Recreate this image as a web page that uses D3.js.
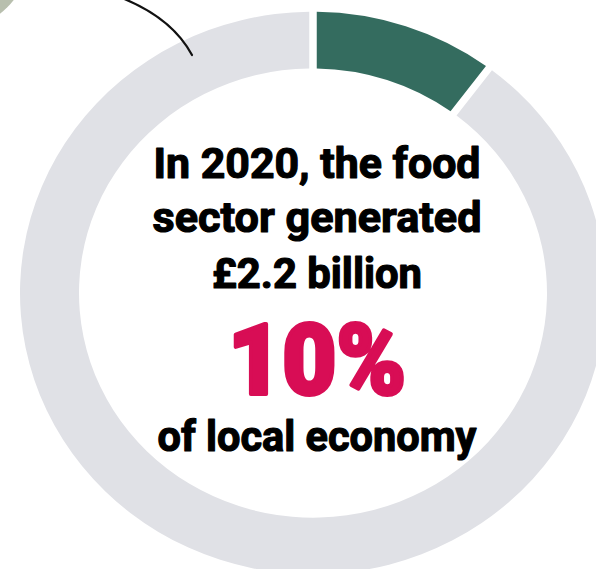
<!DOCTYPE html>
<html>
<head>
    <meta charset="utf-8">
    <title>Food sector share of local economy</title>
    <style>
        html, body { margin: 0; padding: 0; background: #fff; }
        svg { display: block; }
    </style>
</head>
<body>
<div id="chart"></div>
<script src="https://d3js.org/d3.v7.min.js"></script>
<script>
// data
var segments = ["Food sector", "Rest of local economy"];
var shares   = [10, 90];
var headline = ["In 2020, the food", "sector generated", "£2.2 billion"];
var bigValue = "10%";
var footline = "of local economy";

var width = 596, height = 569;
var cx = 313, cy = 293;          // ring centre
var outerR = 293, innerR = 234;  // ring radii (x-axis)
var squash = 0.96;               // ring is a bit flatter vertically

var color = d3.scaleOrdinal()
    .domain(segments)
    .range(["#346c5f", "#e0e1e6"]);

var svg = d3.select("#chart")
    .append("svg")
    .attr("width", width)
    .attr("height", height);

// sage blob peeking in the top-left corner
svg.append("circle")
    .attr("cx", -45)
    .attr("cy", -45)
    .attr("r", 74)
    .style("fill", "#b8bfae");

var pie = d3.pie()
    .sort(null)
    .value(function(d){ return d; })
    .padAngle(0.02);

var arc = d3.arc()
    .innerRadius(innerR)
    .outerRadius(outerR);

var ring = svg.append("g")
    .attr("transform", "translate(" + cx + "," + cy + ") scale(1," + squash + ")");

ring.selectAll("path")
    .data(pie(shares))
    .enter()
    .append("path")
    .attr("d", arc)
    .style("fill", function(d, i){ return color(segments[i]); });

// leader line coming in from the top
var lead = d3.path();
lead.moveTo(122, -2);
lead.quadraticCurveTo(172, 18, 192, 55);
svg.append("path")
    .attr("d", lead.toString())
    .style("fill", "none")
    .style("stroke", "#111")
    .style("stroke-width", 2.2)
    .style("stroke-linecap", "round");

// centre text (stroked a little to get the heavy display weight)
var textX = 317;
var font = "Roboto, 'Noto Sans', sans-serif";

var headY = [178, 232, 288];
var headW = [327, 329, 210];
svg.selectAll(".head")
    .data(headline)
    .enter()
    .append("text")
    .attr("class", "head")
    .attr("x", textX)
    .attr("y", function(d, i){ return headY[i]; })
    .attr("text-anchor", "middle")
    .attr("textLength", function(d, i){ return headW[i]; })
    .attr("lengthAdjust", "spacingAndGlyphs")
    .style("font-family", font)
    .style("font-weight", 700)
    .style("font-size", "43px")
    .style("fill", "#000")
    .style("stroke", "#000")
    .style("stroke-width", 1.2)
    .style("stroke-linejoin", "round")
    .text(function(d){ return d; });

svg.append("text")
    .attr("x", textX)
    .attr("y", 394)
    .attr("text-anchor", "middle")
    .attr("textLength", 178)
    .attr("lengthAdjust", "spacingAndGlyphs")
    .style("font-family", font)
    .style("font-weight", 900)
    .style("font-size", "99px")
    .style("fill", "#d80d55")
    .style("stroke", "#d80d55")
    .style("stroke-width", 4)
    .style("stroke-linejoin", "round")
    .text(bigValue);

svg.append("text")
    .attr("x", textX)
    .attr("y", 451)
    .attr("text-anchor", "middle")
    .attr("textLength", 319)
    .attr("lengthAdjust", "spacingAndGlyphs")
    .style("font-family", font)
    .style("font-weight", 700)
    .style("font-size", "43px")
    .style("fill", "#000")
    .style("stroke", "#000")
    .style("stroke-width", 1.2)
    .style("stroke-linejoin", "round")
    .text(footline);
</script>
</body>
</html>
